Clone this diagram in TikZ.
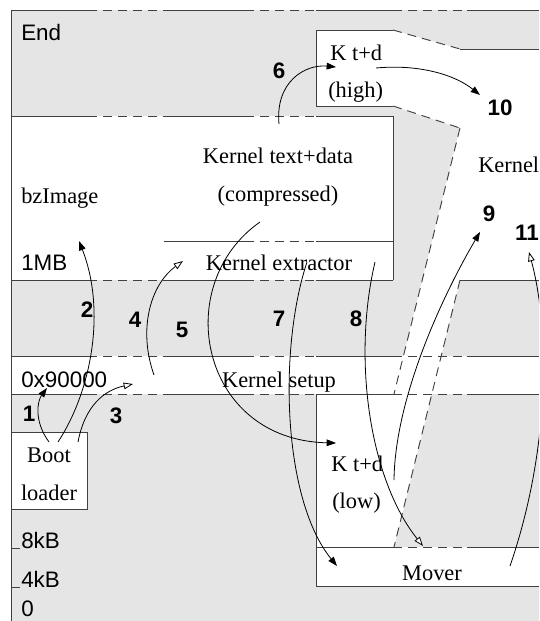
\documentclass[tikz,border=0pt]{standalone}
\usepackage{fontspec}
\setmainfont{Liberation Serif}
\newfontfamily\hv{Liberation Sans}
\usetikzlibrary{arrows.meta}
\definecolor{bg}{HTML}{E5E5E5}
\definecolor{ln}{HTML}{404040}
\newcommand\mempat[3]{%
  \begin{scope}
  \clip (#2,#1-3) rectangle (#3,#1+3);
  \draw[bord] (11,#1) -- (88,#1) (165,#1) -- (245,#1) (316,#1) -- (393,#1) (467,#1) -- (539,#1);
  \draw[dsh] (88,#1) -- (165,#1) (245,#1) -- (316,#1) (393,#1) -- (467,#1);
  \end{scope}}
\begin{document}
\begin{tikzpicture}[x=0.75pt,y=-0.75pt,
  every node/.style={inner sep=0pt, font=\fontsize{16.8pt}{20pt}\selectfont},
  lbl/.style={anchor=base west},
  ctr/.style={anchor=base},
  sf/.style={font=\fontsize{16.8pt}{20pt}\selectfont\hv},
  num/.style={anchor=base, font=\fontsize{16.8pt}{20pt}\selectfont\hv\bfseries},
  bord/.style={draw=ln, line width=0.7pt},
  dsh/.style={draw=ln, line width=0.7pt, dash pattern=on 6.75pt off 4.5pt},
  arr/.style={draw=black, line width=0.6pt, -{Triangle[length=7pt,width=5pt]}},
  oarr/.style={draw=black, line width=0.6pt, -{Triangle[length=7pt,width=5pt,fill=white]}},
]
\useasboundingbox (0,0) rectangle (539,621);
\clip (0,0) rectangle (539,621);
% background
\fill[bg] (11,10) rectangle (539,621);
% white regions
\fill[white] (11,116) rectangle (393,280);
\fill[white] (316,30) rectangle (393,106);
\fill[white] (393,30) -- (460,49) -- (460,128) -- (393,106) -- cycle;
\fill[white] (460,49) rectangle (539,280);
\fill[white] (460,128) -- (460,280) -- (394,547) -- (394,394) -- cycle;
\fill[white] (11,356) rectangle (539,394);
\fill[white] (316,394) rectangle (394,547);
\fill[white] (316,547) rectangle (539,586);
\fill[white] (11,432) rectangle (87,509);
% border lines
\draw[bord] (11,10) -- (11,621);
\mempat{10}{11}{539}
\mempat{116}{11}{393}
\mempat{280}{11}{393}
\mempat{241}{164}{393}
\mempat{356}{11}{539}
\mempat{394}{11}{539}
\mempat{547}{316}{539}
\draw[bord] (460,280) -- (539,280);
\draw[bord] (460,49) -- (539,49);
\draw[bord] (393,30) -- (316,30) -- (316,106) -- (393,106);
\draw[bord] (393,116) -- (393,280);
\draw[bord] (316,394) -- (316,586) -- (539,586);
\draw[bord] (11,432) rectangle (87,509);
\draw[bord] (11,548) -- (20,548);
\draw[bord] (11,587) -- (20,587);
\draw[dsh] (393,30) -- (460,49);
\draw[dsh] (393,106) -- (460,128);
\draw[dsh] (460,128) -- (394,394);
\draw[dsh] (460,280) -- (394,547);
% texts
\node[lbl,sf] (tEnd) at (21,40) {End};
\node[lbl] (tbz) at (21,203) {bzImage};
\node[ctr] (tktd) at (278,163) {Kernel text+data};
\node[ctr] (tcomp) at (278,201) {(compressed)};
\node[lbl,sf] (t1mb) at (21,270) {1MB};
\node[ctr] (text) at (279,270) {Kernel extractor};
\node[lbl,sf] (t9k) at (21,387) {0x90000};
\node[ctr] (tset) at (279,387) {Kernel setup};
\node[ctr] (tboot) at (49,462) {Boot};
\node[ctr] (tload) at (49,500) {loader};
\node[lbl,sf] (t8k) at (21,548) {8kB};
\node[lbl,sf] (t4k) at (21,587) {4kB};
\node[lbl,sf] (t0) at (21,616) {0};
\node[lbl] (thi1) at (330,60) {K t+d};
\node[lbl] (thi2) at (328,97) {(high)};
\node[lbl] (tkern) at (478,172) {Kernel};
\node[lbl] (tlo1) at (331,471) {K t+d};
\node[lbl] (tlo2) at (332,508) {(low)};
\node[ctr] (tmov) at (432,580) {Mover};
% numbers
\node[num] (n1) at (29,421) {1};
\node[num] (n2) at (87,317) {2};
\node[num] (n3) at (116,423) {3};
\node[num] (n4) at (135,327) {4};
\node[num] (n5) at (182,337) {5};
\node[num] (n6) at (279,78) {6};
\node[num] (n7) at (279,326) {7};
\node[num] (n8) at (356,326) {8};
\node[num] (n9) at (489,221) {9};
\node[num] (n10) at (500,115) {10};
\node[num] (n11) at (527,240) {11};
% arrow end points
\coordinate (a1s) at (49,442); \coordinate (a1e) at (47,388);
\coordinate (a2s) at (58,442); \coordinate (a2e) at (79,241);
\coordinate (a3s) at (78,442); \coordinate (a3e) at (133,384);
\coordinate (a4s) at (154,375); \coordinate (a4e) at (183,261);
\coordinate (a5s) at (260,222); \coordinate (a5e) at (336,443);
\coordinate (a6s) at (279,124); \coordinate (a6e) at (336,67);
\coordinate (a7s) at (307,262); \coordinate (a7e) at (337,566);
\coordinate (a8s) at (375,262); \coordinate (a8e) at (423,546);
\coordinate (a9s) at (394,480); \coordinate (a9e) at (480,232);
\coordinate (a10s) at (376,68); \coordinate (a10e) at (480,95);
\coordinate (a11s) at (510,566); \coordinate (a11e) at (529,252);
% arrows
\draw[arr] (a1s) .. controls (33,420) and (38,400) .. (a1e);
\draw[arr] (a2s) .. controls (92,390) and (106,310) .. (a2e);
\draw[oarr] (a3s) .. controls (85,405) and (105,390) .. (a3e);
\draw[oarr] (a4s) .. controls (138,330) and (150,285) .. (a4e);
\draw[arr] (a5s) .. controls (170,285) and (200,440) .. (a5e);
\draw[arr] (a6s) .. controls (275,82) and (305,64) .. (a6e);
\draw[arr] (a7s) .. controls (278,350) and (283,500) .. (a7e);
\draw[oarr] (a8s) .. controls (352,360) and (370,480) .. (a8e);
\draw[arr] (a9s) .. controls (395,400) and (440,300) .. (a9e);
\draw[arr] (a10s) .. controls (420,64) and (455,75) .. (a10e);
\draw[oarr] (a11s) .. controls (550,450) and (550,330) .. (a11e);
\end{tikzpicture}
\end{document}
